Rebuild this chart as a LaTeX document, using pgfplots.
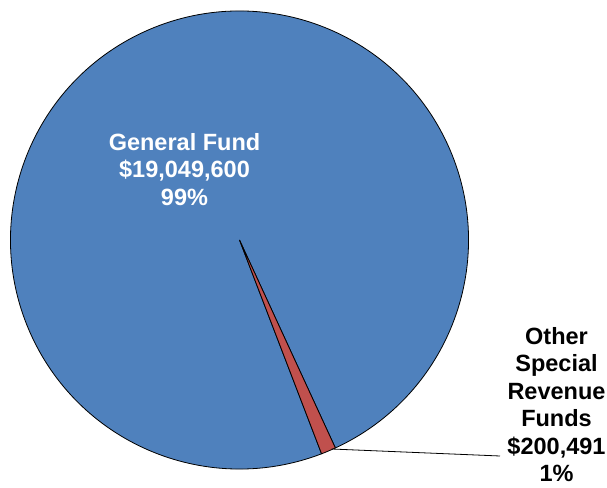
\documentclass[border=0pt]{standalone}
\usepackage{pgfplots}
\usepackage{pgfplotstable}
\pgfplotsset{compat=1.18}
\usepackage{fontspec}
\setmainfont{Liberation Sans}

\definecolor{gfblue}{HTML}{4F81BD}
\definecolor{osred}{HTML}{C0504D}

\pgfplotstableread{
fund value
General 19049600
Other 200491
}\fundtable

\pgfplotstablegetelem{0}{value}\of\fundtable \let\valGeneral\pgfplotsretval
\pgfplotstablegetelem{1}{value}\of\fundtable \let\valOther\pgfplotsretval
% slice angles, first slice starts at -69 deg
\edef\angOther{\fpeval{360*\valOther/(\valGeneral+\valOther)}}
\edef\startA{-69}
\edef\midA{\fpeval{\startA+\angOther}}
\edef\endA{\fpeval{\startA+360}}

\begin{document}
\begin{tikzpicture}
\begin{axis}[
    name=pie,
    at={(0,0)}, anchor=south west,
    x=1pt, y=1pt,
    xmin=0, xmax=607, ymin=0, ymax=487,
    hide axis,
    scale only axis,
    clip=false,
]
\addplot[draw=none] coordinates {(0,0) (607,487)};
\coordinate (C) at (axis cs:239.5,247);
% pie slices
\filldraw[fill=gfblue, draw=black, line width=0.8pt]
    (C) -- ++(\midA:229pt) arc[start angle=\midA, end angle=\endA, radius=229pt] -- cycle;
\filldraw[fill=osred, draw=black, line width=0.8pt]
    (C) -- ++(\startA:229pt) arc[start angle=\startA, end angle=\midA, radius=229pt] -- cycle;
% leader line
\draw[black, line width=0.8pt] (axis cs:331.7,38) -- (axis cs:500,31);
% labels
\node[align=center, inner sep=0pt, text=white, font=\bfseries\fontsize{23.5}{27.6}\selectfont]
    at (axis cs:184.5,317.5) {General Fund\\\$19,049,600\\99\%};
\node[align=center, inner sep=0pt, text=black, font=\bfseries\fontsize{23.5}{27.4}\selectfont]
    at (axis cs:556.5,82.5) {Other\\Special\\Revenue\\Funds\\\$200,491\\1\%};
\end{axis}
\pgfresetboundingbox
\useasboundingbox (pie.south west) rectangle (pie.north east);
\end{tikzpicture}
\end{document}
